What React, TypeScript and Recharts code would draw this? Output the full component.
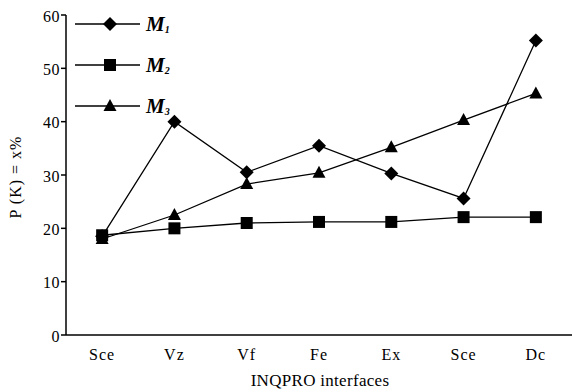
import React from 'react';
import { LineChart, Line, XAxis, YAxis, Label, Customized } from 'recharts';

const categories = ['Sce', 'Vz', 'Vf', 'Fe', 'Ex', 'Sce', 'Dc'];
const m1Values = [18.5, 40, 30.5, 35.5, 30.3, 25.6, 55.2];
const m2Values = [18.7, 20, 21, 21.2, 21.2, 22.1, 22.1];
const m3Values = [18, 22.5, 28.3, 30.4, 35.2, 40.3, 45.3];
const yTicks = [0, 10, 20, 30, 40, 50, 60];
const seriesNames = ['M1', 'M2', 'M3'];
const subs = ['1', '2', '3'];

const data = categories.map((c, i) => ({
  idx: i,
  cat: c,
  m1: m1Values[i],
  m2: m2Values[i],
  m3: m3Values[i],
}));

const FONT = 'Liberation Serif';

const Diamond = (cx: number, cy: number, key?: any) => (
  <polygon key={key} points={`${cx},${cy - 7} ${cx + 7},${cy} ${cx},${cy + 7} ${cx - 7},${cy}`} fill="#000" />
);
const Square = (cx: number, cy: number, key?: any) => (
  <rect key={key} x={cx - 6} y={cy - 6} width={12} height={12} fill="#000" />
);
const Triangle = (cx: number, cy: number, key?: any) => (
  <polygon key={key} points={`${cx},${cy - 7} ${cx + 6.5},${cy + 5} ${cx - 6.5},${cy + 5}`} fill="#000" />
);
const shapes = [Diamond, Square, Triangle];

const dotFn = (shape: (cx: number, cy: number, key?: any) => React.ReactElement) => (props: any) => {
  const { cx, cy, index } = props;
  if (cx == null || cy == null) return <g key={index} />;
  return shape(cx, cy, index);
};

const LegendLayer = () => (
  <g>
    {seriesNames.map((n, i) => {
      const y = 24 + i * 41;
      return (
        <g key={n}>
          <line x1={75} x2={140} y1={y} y2={y} stroke="#000" strokeWidth={1.5} />
          {shapes[i](110, y)}
          <text x={146} y={y + 7} style={{ fontFamily: FONT }} fontWeight="bold" fontStyle="italic" fontSize={21} fill="#000">
            M
            <tspan fontSize={10} dy={2}>{subs[i]}</tspan>
          </text>
        </g>
      );
    })}
  </g>
);

const xTickFn = (props: any) => {
  const { x, y, payload } = props;
  return (
    <text x={x} y={y + 23} textAnchor="middle" style={{ fontFamily: FONT }} fontSize={16} letterSpacing={1} fill="#000">
      {categories[payload.value]}
    </text>
  );
};

const yTickFn = (props: any) => {
  const { x, y, payload } = props;
  return (
    <text x={x} y={y + 1} textAnchor="end" dominantBaseline="central" style={{ fontFamily: FONT }} fontSize={16} letterSpacing={0.5} fill="#000">
      {payload.value}
    </text>
  );
};

export default function App() {
  return (
    <div style={{ position: 'absolute', left: 0, top: 0, background: '#fff' }}>
      <LineChart width={572} height={392} data={data} margin={{ top: 15, right: 0, left: 0, bottom: 0 }}>
        <XAxis
          dataKey="idx"
          type="number"
          domain={[-0.5, 6.5]}
          ticks={[0, 1, 2, 3, 4, 5, 6]}
          height={57}
          tickLine={false}
          tickSize={0}
          tick={xTickFn}
          axisLine={{ stroke: '#000', strokeWidth: 1.5 }}
          interval={0}
        >
          <Label
            content={() => (
              <text x={320} y={386} textAnchor="middle" style={{ fontFamily: FONT }} fontSize={17} letterSpacing={0.3} fill="#000">
                INQPRO interfaces
              </text>
            )}
          />
        </XAxis>
        <YAxis
          domain={[0, 60]}
          ticks={yTicks}
          width={66}
          tickSize={5}
          tickMargin={1}
          interval={0}
          axisLine={{ stroke: '#000', strokeWidth: 1.5 }}
          tickLine={{ stroke: '#000', strokeWidth: 1.5 }}
          tick={yTickFn}
        >
          <Label
            content={() => (
              <text
                x={15}
                y={177}
                transform="rotate(-90 15 177)"
                textAnchor="middle"
                dominantBaseline="central"
                style={{ fontFamily: FONT }}
                fontSize={16}
                letterSpacing={1}
                fill="#000"
              >
                P (K) = x%
              </text>
            )}
          />
        </YAxis>
        <Customized component={LegendLayer} />
        <Line dataKey="m1" name="M1" stroke="#000" strokeWidth={1.3} dot={dotFn(Diamond)} isAnimationActive={false} activeDot={false} />
        <Line dataKey="m2" name="M2" stroke="#000" strokeWidth={1.3} dot={dotFn(Square)} isAnimationActive={false} activeDot={false} />
        <Line dataKey="m3" name="M3" stroke="#000" strokeWidth={1.3} dot={dotFn(Triangle)} isAnimationActive={false} activeDot={false} />
      </LineChart>
    </div>
  );
}
